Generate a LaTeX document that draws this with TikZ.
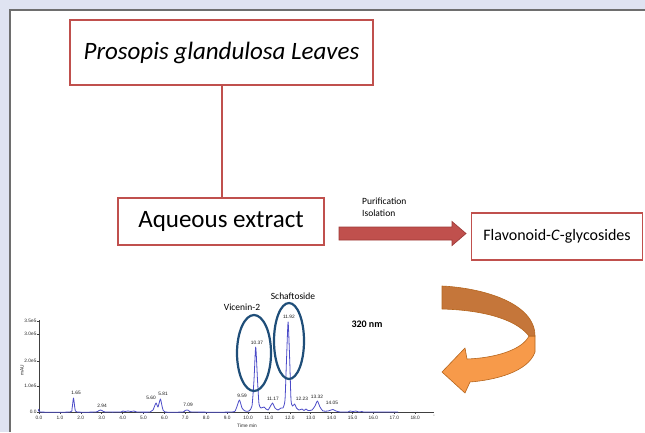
\documentclass[tikz,border=0pt]{standalone}
\usepackage{fontspec}
\setmainfont{Carlito}
\newfontfamily\chromfont{Liberation Sans}
\usetikzlibrary{calc,shapes.geometric}
\definecolor{bgpanel}{HTML}{DFE3F1}
\definecolor{framegray}{HTML}{6E6E6E}
\definecolor{boxred}{HTML}{C0504D}
\definecolor{arrowredline}{HTML}{9E3A38}
\definecolor{darkorange}{HTML}{C5763A}
\definecolor{lightorange}{HTML}{F79A4A}
\definecolor{orangeline}{HTML}{B5651D}
\definecolor{traceblue}{HTML}{4B4BC8}
\definecolor{ellblue}{HTML}{1F4E79}
\begin{document}
\begin{tikzpicture}[x=1pt,y=-1pt,
  redbox/.style={draw=boxred, line width=1.8pt, fill=white, inner sep=0pt, align=center},
  redline/.style={color=boxred, line width=2pt},
  redarrow/.style={fill=boxred, draw=arrowredline, line width=0.7pt},
  orangepart/.style={draw=orangeline, line width=0.6pt, line join=round},
  smalltext/.style={font=\fontsize{9.5}{11}\selectfont, inner sep=0pt},
  ticklabel/.style={font=\chromfont\fontsize{4.8}{5}\selectfont, inner sep=0.3pt, text=black!85},
  peaklabel/.style={font=\chromfont\fontsize{4.8}{5}\selectfont, inner sep=0.3pt, text=black!90},
  axisline/.style={draw=black!75, line width=0.7pt},
  trace/.style={draw=traceblue, line width=0.8pt, line join=round},
  peakring/.style={ellipse, draw=ellblue, line width=2.2pt, inner sep=0pt}
]
\useasboundingbox (0,0) rectangle (645,432);
% background panel
\fill[bgpanel] (0,0) rectangle (645,432);
\fill[white] (10,10) rectangle (645,432);
\draw[framegray, line width=1.5pt] (10,432) -- (10,10) -- (645,10);

% boxes
\node[redbox, minimum width=303pt, minimum height=65pt, font=\fontsize{25}{29}\selectfont\itshape]
  (leaves) at (221.5,52.5) {Prosopis glandulosa Leaves};
\node[redbox, minimum width=206pt, minimum height=47pt, font=\fontsize{25}{29}\selectfont]
  (ext) at (221,221.5) {Aqueous extract};
\node[redbox, minimum width=171pt, minimum height=47pt, font=\fontsize{16}{19}\selectfont]
  (flav) at (557,236.5) {Flavonoid-\textit{C}-glycosides};
\draw[redline] (leaves.south) -- (leaves.south |- ext.north);

% red arrow
\coordinate (ra1) at (339,233.5);
\coordinate (ra2) at (466,233.5);
\draw[redarrow] ($(ra1)+(0,-6.5)$) -- ($(ra2)+(-14,-6.5)$) -- ($(ra2)+(-14,-12)$) -- (ra2)
  -- ($(ra2)+(-14,12)$) -- ($(ra2)+(-14,6.5)$) -- ($(ra1)+(0,6.5)$) -- cycle;
\node[smalltext, anchor=west] (pur) at (362,201) {Purification};
\node[smalltext, anchor=west] (iso) at (362,213.5) {Isolation};

% orange curved arrow
\fill[lightorange] (529,336) -- (535,336) -- (535,352) .. controls (528,372) and (495,380) .. (470,382)
  -- (465,393) -- (442,372) -- (465,348) -- (467,359) .. controls (495,358) and (522,350) .. (529,336) -- cycle;
\draw[orangepart] (529,336) -- (535,336) -- (535,352) .. controls (528,372) and (495,380) .. (470,382)
  -- (465,393) -- (442,372) -- (465,348) -- (467,359) .. controls (495,358) and (522,350) .. (529,336) -- cycle;
\fill[darkorange] (442,286) .. controls (483,288) and (535,303) .. (535,336) -- (529,336)
  .. controls (515,318) and (480,310) .. (442,309) -- cycle;
\draw[orangepart] (442,286) .. controls (483,288) and (535,303) .. (535,336) -- (529,336)
  .. controls (515,318) and (480,310) .. (442,309) -- cycle;

% chromatogram axes
\draw[axisline] (39,320) -- (39,412) -- (434,412);
\foreach \t in {0,...,18} {
  \draw[axisline, line width=0.5pt] (39+20.9*\t,412) -- ++(0,2);
  \node[ticklabel] (xt\t) at (39+20.9*\t,418) {\t.0};
}
\node[ticklabel] (xtend) at (434,417) {'};
\foreach \v/\lab/\n in {321/3.5e5/a, 334/3.0e5/b, 361/2.0e5/c, 386/1.0e5/d, 412/0.0/e} {
  \draw[axisline, line width=0.5pt] (39,\v) -- ++(-2,0);
  \node[ticklabel, anchor=east] (yt\n) at (37,\v) {\lab};
}
\node[ticklabel, rotate=90] (ylab) at (22,370) {mAU};
\node[ticklabel] (xlab) at (247,426) {Time min};

% trace
\draw[trace] plot[smooth, tension=0.35] coordinates {
 (39,409) (40,412) (70,412) (72,409) (73.5,398) (75,409) (77,412)
 (96,412) (99,410.5) (100.5,410) (102,410.5) (105,412)
 (121,412) (123,411) (125,411.5) (128,411) (131,411.5) (134,411) (137,412)
 (150,412) (153,410) (156,403) (158,407) (160.4,399) (162.5,408) (165,412)
 (183,412) (185,410.5) (187,410) (189,410.5) (192,412)
 (232,412) (236,409) (239.4,400) (242,408) (245,411)
 (249,411) (252,406) (254,380) (255.7,347) (257.5,380) (259,404) (261,408) (264,407) (266,409) (268,410)
 (270,407) (272.5,403) (275,408) (278,410) (281,408) (283,408)
 (285,400) (286.5,360) (288.1,322) (289.7,360) (291,400) (292.5,406)
 (294.6,404) (296.5,408) (299,410) (302,409) (304,410.5) (306,409) (308,410.5)
 (312,410) (315,406) (317.4,401) (320,407) (323,411)
 (328,411) (331,410) (333,409.5) (336,411) (340,412)
 (348,412) (350,411) (353,411.5) (356,411) (359,412) (362,411.5) (365,412) (398,412)
};

% peak labels
\foreach \lab/\px/\py/\n in {1.65/76/393/p1, 2.94/102/406/p2, 5.60/151/398/p3, 5.81/163/394/p4,
  7.09/188/405/p5, 9.59/242/396/p6, 10.37/257/343/p7, 11.17/273/399/p8, 11.92/289/317/p9,
  12.23/302/399/p10, 13.32/317/397/p11, 14.05/332/403/p12} {
  \node[peaklabel] (\n) at (\px,\py) {\lab};
}

% rings and compound names
\node[peakring, minimum width=34pt, minimum height=76pt] (vicring) at (254,353) {};
\node[peakring, minimum width=30pt, minimum height=76pt] (schring) at (289,341) {};
\node[smalltext] (vic) at (242,307) {Vicenin-2};
\node[smalltext] (sch) at (293,296) {Schaftoside};
\node[smalltext, font=\fontsize{10}{12}\selectfont\bfseries] (nm) at (367,324) {320 nm};
\end{tikzpicture}
\end{document}
